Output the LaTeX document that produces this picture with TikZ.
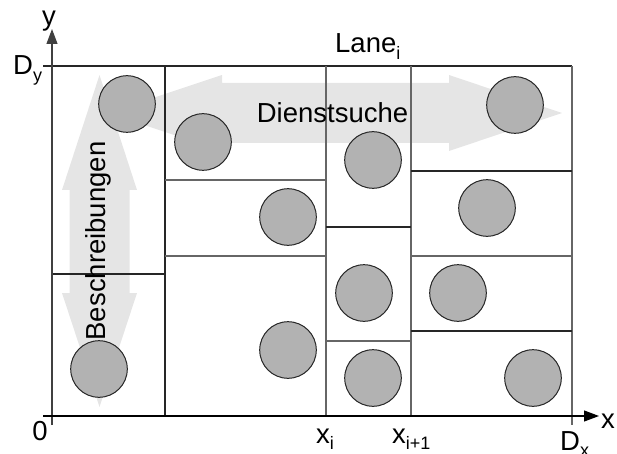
\documentclass[tikz,border=0pt]{standalone}
\usepackage{fontspec}
\setmainfont{Liberation Sans}
\usetikzlibrary{arrows.meta}
% lowered, smaller index after a label
\newcommand{\lbsub}[1]{\raisebox{-0.25em}{\fontsize{18}{18}\selectfont #1}}
\begin{document}
\begin{tikzpicture}[x=1pt,y=-1pt,
  lbl/.style={inner sep=0pt, font=\fontsize{27.5}{31}\selectfont},
  station/.style={circle, draw=black!85, fill=black!30, line width=1pt,
                  minimum size=56.6pt, inner sep=0pt},
  cell/.style={draw=black!85, line width=1.1pt},
  cellgray/.style={draw=black!60, line width=1.1pt},
  flow/.style={fill=black!10, draw=none},
  axis/.style={draw=black!75, line width=1.1pt},
  axtip/.style={-{Triangle[length=15pt,width=11pt]}}
]
\useasboundingbox (0,0) rectangle (617,454);

% broad double arrows in the background
\fill[flow] (108,113) -- (222,75) -- (222,83) -- (449,83) -- (449,75) -- (562,113)
  -- (449,151) -- (449,143) -- (222,143) -- (222,151) -- cycle;
\fill[flow] (99.5,75) -- (137,190) -- (129.5,190) -- (129.5,293) -- (137,293)
  -- (99.5,407) -- (62,293) -- (69.5,293) -- (69.5,190) -- (62,190) -- cycle;

% lane boundaries
\draw[cell] (43,66) -- (572,66);
\draw[cellgray] (572,66) -- (572,425);
\draw[cell] (165,66) -- (165,416);
\draw[cellgray] (326,66) -- (326,416);
\draw[cellgray] (411,66) -- (411,416);

% cell boundaries inside the lanes
\draw[cell] (52,274) -- (165,274);
\draw[cellgray] (165,180) -- (326,180);
\draw[cellgray] (165,256) -- (326,256);
\draw[cell] (326,227) -- (411,227);
\draw[cellgray] (326,341) -- (411,341);
\draw[cell] (411,171) -- (572,171);
\draw[cellgray] (411,256) -- (572,256);
\draw[cell] (411,331) -- (572,331);

% axes
\coordinate (ybot) at (52,425);
\coordinate (ytop) at (52,29);
\coordinate (xleft) at (43,416);
\coordinate (xright) at (599,416);
\draw[axis,axtip] (ybot) -- (ytop);
\draw[draw=black,line width=1.1pt,axtip] (xleft) -- (xright);

% stations
\node[station] (s1)  at (127,104) {};
\node[station] (s2)  at (203,142) {};
\node[station] (s3)  at (288,217) {};
\node[station] (s4)  at (373,160) {};
\node[station] (s5)  at (487,208) {};
\node[station] (s6)  at (515,105) {};
\node[station] (s7)  at (364,293) {};
\node[station] (s8)  at (458,293) {};
\node[station] (s9)  at (99,369) {};
\node[station] (s10) at (288,350) {};
\node[station] (s11) at (373,378) {};
\node[station] (s12) at (533,378) {};

% arrow captions
\node[lbl, anchor=base] (search) at (332.5,123) {Dienstsuche};
\node[lbl, anchor=base, rotate=90] (descr) at (105.5,241) {Beschreibungen};

% axis and lane labels
\node[lbl, anchor=base] (ylab) at (49,26) {y};
\node[lbl, anchor=base west] (dy) at (13,75) {D\lbsub{y}};
\node[lbl, anchor=base] (zero) at (40,440) {0};
\node[lbl, anchor=base west] (xi) at (316,443) {x\lbsub{i}};
\node[lbl, anchor=base west] (xi1) at (392,443) {x\lbsub{i+1}};
\node[lbl, anchor=base west] (dx) at (560,450) {D\lbsub{x}};
\node[lbl, anchor=base west] (xlab) at (601,428) {x};
\node[lbl, anchor=base west] (lane) at (335,53) {Lane\lbsub{i}};
\end{tikzpicture}
\end{document}
